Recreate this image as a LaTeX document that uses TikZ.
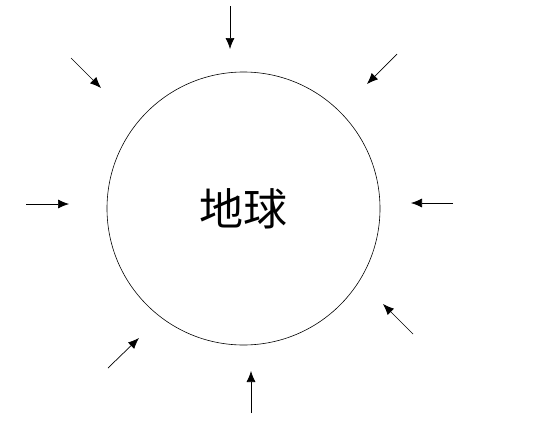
\documentclass[tikz,border=0pt]{standalone}
\usepackage{fontspec}
\newfontfamily\cjk{Noto Sans CJK SC}
\usetikzlibrary{arrows.meta}

\begin{document}
\begin{tikzpicture}[
        x=1pt, y=-1pt,
        earth/.style={
            circle,
            draw,
            line width=0.6pt,
            minimum size=273pt,
            inner sep=0pt,
            font=\cjk\fontsize{44}{44}\selectfont
        },
        ray/.style={
            line width=0.7pt,
            -{Latex[length=11pt,width=9pt]}
        }
    ]
    \useasboundingbox[fill=white] (0,0) rectangle (536,437);

    \node[earth] (globe) at (243.5,208.5) {地球};

    \foreach \i/\sx/\sy/\ex/\ey in {
            top/230/6/230/49,
            topright/397/54/367/84,
            right/453/203/411/203,
            botright/413/334/383/304,
            bot/251/413/251/371,
            botleft/108/368/139/338,
            left/26/204/69/204,
            topleft/71/58/101/88}{
        \coordinate (\i-from) at (\sx,\sy);
        \coordinate (\i-to) at (\ex,\ey);
        \draw[ray] (\i-from) -- (\i-to);
    }
\end{tikzpicture}
\end{document}
